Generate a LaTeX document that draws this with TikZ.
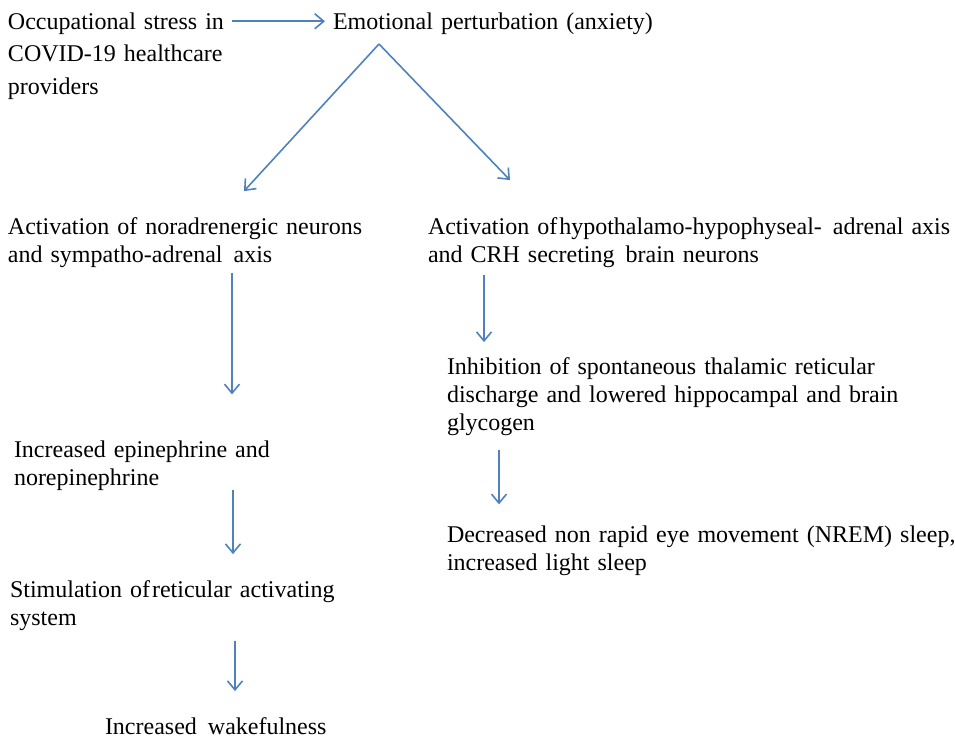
\documentclass[tikz,border=0pt]{standalone}
\usepackage{fontspec}
\setmainfont{Liberation Serif}
\usepackage{xcolor}
\usepackage{tikz}
\usetikzlibrary{positioning}
\usetikzlibrary{arrows.meta}
\definecolor{arrowblue}{HTML}{4F81BD}
\tikzset{edge/.style = {-{Straight Barb[length=9pt,width=15pt]}, draw=arrowblue, line width=1.6pt}}

\begin{document}
\begin{tikzpicture}[x=1pt,y=-1pt,text node/.style={inner sep=0pt,outer sep=0pt,anchor=base west,align=left,font=\fontsize{24}{28}\selectfont}]
                \useasboundingbox (0,0) rectangle (955,739);
                \node[text node, text width=224pt, font=\fontsize{24}{32.5}\selectfont] (occ) at (8,29) {Occupational stress in\\COVID-19 healthcare\\providers};
                \node[text node, text width=340pt] (emo) at (333,29) {Emotional perturbation (anxiety)};
                \node[text node, text width=380pt] (noradr) at (8,234) {Activation of noradrenergic neurons\\and sympatho-adrenal\hspace{3pt} axis};
                \node[text node, text width=560pt] (hypo) at (428,234) {Activation of\hspace{2pt}hypothalamo-hypophyseal-\hspace{3pt} adrenal axis\\and CRH secreting\hspace{3pt} brain neurons};
                \node[text node, text width=480pt] (inhib) at (447,374) {Inhibition of spontaneous thalamic reticular\\discharge and lowered hippocampal and brain\\glycogen};
                \node[text node, text width=530pt] (nrem) at (447,542) {Decreased non rapid eye movement (NREM) sleep,\\increased light sleep};
                \node[text node, text width=280pt] (epi) at (14,457) {Increased epinephrine and\\norepinephrine};
                \node[text node, text width=340pt] (stim) at (10,597) {Stimulation of\hspace{2pt}reticular activating\\system};
                \node[text node, text width=260pt] (wake) at (105,734) {Increased\hspace{3pt} wakefulness};
                \coordinate (split) at (379,44);

                \draw[edge, shorten >=8pt] ([yshift=2pt]emo.west -| occ.east) -- ([yshift=2pt]emo.west);
                \draw[edge] (split) -- ([xshift=236pt,yshift=26pt]noradr.north west);
                \draw[edge] (split) -- ([xshift=82pt,yshift=37pt]hypo.north west);
                \draw[edge, shorten <=6pt, shorten >=46pt] ([xshift=224pt]noradr.south west) -- ([xshift=224pt]noradr.south west |- epi.north);
                \draw[edge, shorten <=8pt, shorten >=15pt] ([xshift=56pt]hypo.south west) -- ([xshift=56pt]hypo.south west |- inhib.north);
                \draw[edge, shorten <=15pt, shorten >=21pt] ([xshift=52pt]inhib.south west) -- ([xshift=52pt]inhib.south west |- nrem.north);
                \draw[edge, shorten >=26pt] ([xshift=219pt]epi.south west) -- ([xshift=219pt]epi.south west |- stim.north);
                \draw[edge, shorten <=11pt, shorten >=26pt] ([xshift=225pt]stim.south west) -- ([xshift=225pt]stim.south west |- wake.north);
            \end{tikzpicture}
\end{document}
